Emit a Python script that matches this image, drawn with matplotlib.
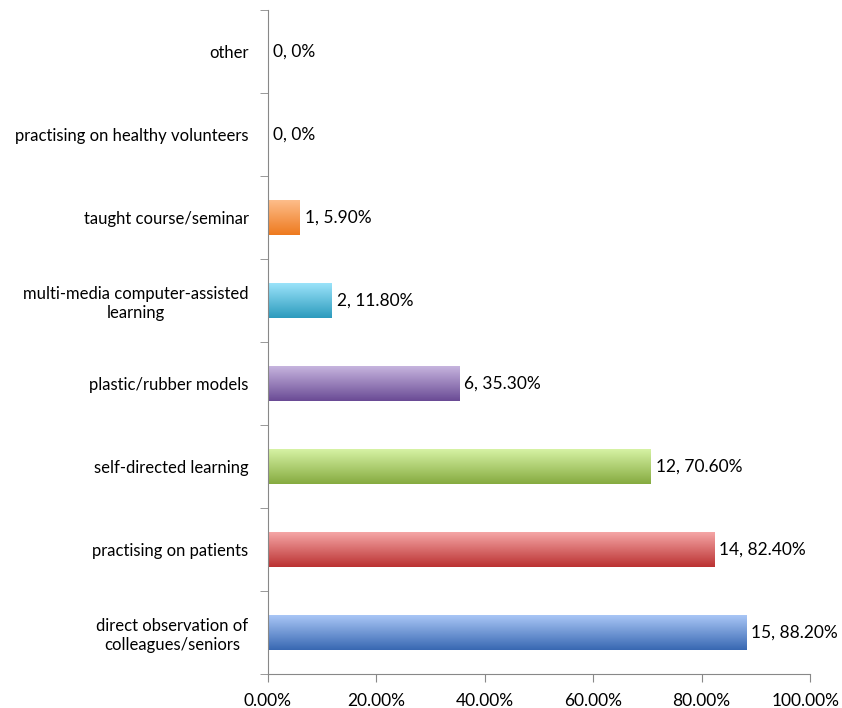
import numpy as np
import matplotlib.pyplot as plt
import matplotlib.transforms as mtransforms
from matplotlib.colors import LinearSegmentedColormap

plt.rcParams['font.family'] = ['Lato', 'DejaVu Sans']

categories = ["direct observation of\ncolleagues/seniors", "practising on patients",
              "self-directed learning", "plastic/rubber models",
              "multi-media computer-assisted\nlearning", "taught course/seminar",
              "practising on healthy volunteers", "other"]
counts = [15, 14, 12, 6, 2, 1, 0, 0]
percents = [88.2, 82.4, 70.6, 35.3, 11.8, 5.9, 0.0, 0.0]
# (light top, dark bottom) gradient per bar
bar_colors = [("#a9c6f6", "#3868b2"), ("#f5a6a6", "#bb3232"), ("#d6f2a4", "#86ab40"),
              ("#c6b4de", "#6a4b95"), ("#9be3fa", "#2c9bbd"), ("#fdbd8a", "#ee7a1f"),
              ("#ffffff", "#ffffff"), ("#ffffff", "#ffffff")]

fig = plt.figure(figsize=(8.42, 7.08), dpi=100)
ax = fig.add_axes([268 / 842, 34 / 708, 542 / 842, 664 / 708])

y = np.arange(len(categories))
bars = ax.barh(y, percents, height=0.41, color="none", edgecolor="none")

grad = np.linspace(0, 1, 100).reshape(-1, 1)
for bar, (c1, c2) in zip(bars, bar_colors):
    w = bar.get_width()
    if w <= 0:
        continue
    cmap = LinearSegmentedColormap.from_list("g", [c1, c2])
    y0 = bar.get_y()
    h = bar.get_height()
    im = ax.imshow(grad, extent=[0, w, y0, y0 + h], origin="upper", aspect="auto",
                   cmap=cmap, zorder=2)
    im.set_clip_path(bar)

for yi, n, p in zip(y, counts, percents):
    txt = "0%" if p == 0 else f"{p:.2f}%"
    ax.text(p + 0.9, yi, f"{n}, {txt}", va="center", ha="left", fontsize=12.5)

ax.set_xlim(0, 100)
ax.set_ylim(-0.5, len(categories) - 0.5)
ax.set_xticks(np.arange(0, 101, 20))
ax.set_xticklabels([f"{v:.2f}%" for v in range(0, 101, 20)], fontsize=12.5)

ax.set_yticks(y)
ax.set_yticklabels(categories, fontsize=12)
plt.setp(ax.get_yticklabels(), multialignment="center")
ax.set_yticks(np.arange(-0.5, len(categories), 1), minor=True)
ax.tick_params(axis="y", which="major", length=0, pad=14)
ax.tick_params(axis="y", which="minor", length=6, color="#888888", direction="out")
ax.tick_params(axis="x", length=6, color="#888888", direction="out", pad=8)

# last label pushed inside the figure, as the original does
last = ax.get_xticklabels()[-1]
last.set_horizontalalignment("right")
last.set_transform(last.get_transform() + mtransforms.ScaledTranslation(0.30, 0, fig.dpi_scale_trans))

for s in ["top", "right"]:
    ax.spines[s].set_visible(False)
ax.spines["left"].set_color("#888888")
ax.spines["bottom"].set_color("#888888")

fig.savefig("out.png", dpi=100)
